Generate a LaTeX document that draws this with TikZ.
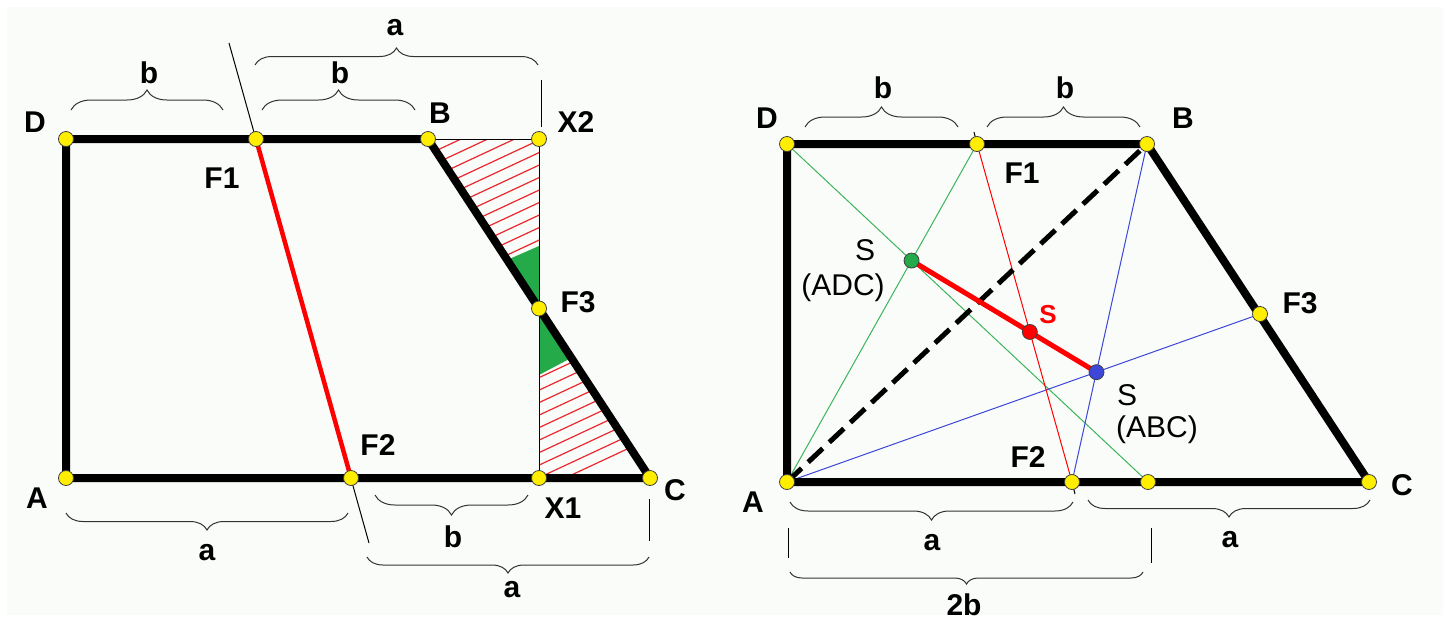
\documentclass[tikz,border=0pt]{standalone}
\usepackage{fontspec}
\setmainfont{Liberation Sans}
\usetikzlibrary{decorations.pathreplacing, positioning}

\definecolor{hatchred}{RGB}{235,40,45}
\definecolor{fillgreen}{RGB}{36,170,72}
\definecolor{linegreen}{RGB}{60,180,90}
\definecolor{lineblue}{RGB}{60,70,215}
\definecolor{dotyellow}{RGB}{255,238,0}
\definecolor{panel}{RGB}{250,252,250}

\tikzset{
  dot/.style={circle, fill=dotyellow, draw=black!75, line width=0.8pt, minimum size=15pt, inner sep=0pt},
  cdot/.style={circle, fill=#1, draw=black!75, line width=0.8pt, minimum size=15pt, inner sep=0pt},
  lbl/.style={font=\fontsize{30}{32}\selectfont\bfseries, inner sep=0pt},
  slbl/.style={font=\fontsize{30}{32}\selectfont, inner sep=0pt},
  thickline/.style={line width=8pt, line join=round},
  thinline/.style={line width=1pt},
  dimbrace/.style={decorate, decoration={brace, amplitude=#1}, line width=1pt, black!80},
}

\begin{document}
\begin{tikzpicture}[x=1pt, y=-1pt]
\useasboundingbox (0,0) rectangle (1451,622);
\fill[panel] (7,7) rectangle (1443,615);

\coordinate (lD) at (66,139);
\coordinate (lF1) at (256,139);
\coordinate (lB) at (428,139);
\coordinate (lX2) at (539,139);
\coordinate (lA) at (66,478);
\coordinate (lF2) at (351,478);
\coordinate (lX1) at (539,478);
\coordinate (lC) at (650,478);
\coordinate (lF3) at (539,308.5);
\coordinate (lG1) at (539,246);
\coordinate (lG2) at (507,260);
\coordinate (lG3) at (539,375);
\coordinate (lG4) at (571,358);
\coordinate (lE1) at (229,43);
\coordinate (lE2) at (369,543);
\coordinate (lT1) at (541,80);
\coordinate (lT2) at (541,127);
\coordinate (lT3) at (649,499);
\coordinate (lT4) at (649,541);

\begin{scope}
\clip (lB) -- (lX2) -- (lG1) -- (lG2) -- cycle;
\foreach \k in {0,...,34}
  \draw[hatchred, line width=1.2pt] (400,{130+12.5*\k}) -- ++(300,-140);
\end{scope}
\begin{scope}
\clip (lG4) -- (lG3) -- (lX1) -- (lC) -- cycle;
\foreach \k in {0,...,34}
  \draw[hatchred, line width=1.2pt] (400,{130+12.5*\k}) -- ++(300,-140);
\end{scope}
\fill[fillgreen] (lF3) -- (lG1) -- (lG2) -- cycle;
\fill[fillgreen] (lF3) -- (lG3) -- (lG4) -- cycle;

\draw[thinline] (lB) -- (lX2) -- (lX1);
\draw[thinline] (lE1) -- (lE2);
\draw[thinline] (lT1) -- (lT2);
\draw[thinline] (lT3) -- (lT4);
\draw[thickline] (lA) -- (lD) -- (lB) -- (lC) -- cycle;
\draw[red, line width=4.5pt] (lF1) -- (lF2);

\foreach \p in {lD,lF1,lB,lX2,lA,lF2,lX1,lC,lF3}
  \node (d\p) at (\p) [dot] {};

\draw[dimbrace=20pt] (71,110) -- (223,110);
\draw[dimbrace=20pt] (262,110) -- (415,110);
\draw[dimbrace=17pt] (255,65) -- (538,65);
\draw[dimbrace=17pt] (348,513) -- (66,513);
\draw[dimbrace=20pt] (528,495) -- (375,495);
\draw[dimbrace=16pt] (649,557) -- (367,557);

\node (lblD) at (35,122) [lbl] {D};
\node (lblF1) at (222,178) [lbl] {F1};
\node (lblB) at (440,113) [lbl] {B};
\node (lblX2) at (576,122) [lbl] {X2};
\node (lblF3) at (578,302) [lbl] {F3};
\node (lblF2) at (378,445) [lbl] {F2};
\node (lblA) at (37,498) [lbl] {A};
\node (lblX1) at (563,508) [lbl] {X1};
\node (lblC) at (675,490) [lbl] {C};
\node (lblb1) at (149,73) [lbl] {b};
\node (lblb2) at (340,73) [lbl] {b};
\node (lbla1) at (395,28) [lbl] {a};
\node (lbla2) at (207,553) [lbl] {a};
\node (lblb3) at (453,537) [lbl] {b};
\node (lbla3) at (512,590) [lbl] {a};

\coordinate (rD) at (787,144);
\coordinate (rF1) at (977,144);
\coordinate (rB) at (1147,144);
\coordinate (rA) at (787,482);
\coordinate (rF2) at (1072,482);
\coordinate (rG) at (1148,482);
\coordinate (rC) at (1369,482);
\coordinate (rF3) at (1260,314);
\coordinate (rE1) at (974,132);
\coordinate (rE2) at (1075,494);
\coordinate (rT1) at (788,528);
\coordinate (rT2) at (788,558);
\coordinate (rT3) at (1151,528);
\coordinate (rT4) at (1151,563);
\coordinate (rSg) at (intersection of rA--rF1 and rD--rG);
\coordinate (rSb) at (intersection of rA--rF3 and rB--rF2);
\coordinate (rS) at (intersection of rF1--rF2 and rSg--rSb);

\draw[thinline] (rE1) -- (rF1);
\draw[thinline] (rF2) -- (rE2);
\draw[thinline] (rT1) -- (rT2);
\draw[thinline] (rT3) -- (rT4);
\draw[linegreen, thinline] (rA) -- (rF1);
\draw[linegreen, thinline] (rD) -- (rG);
\draw[lineblue, thinline] (rA) -- (rF3);
\draw[lineblue, thinline] (rB) -- (rF2);
\draw[red, thinline] (rF1) -- (rF2);
\draw[line width=5pt, dash pattern=on 20pt off 9pt] (rA) -- (rB);
\draw[thickline] (rA) -- (rD) -- (rB) -- (rC) -- cycle;
\draw[red, line width=5pt] (rSg) -- (rSb);

\foreach \p in {rD,rF1,rB,rA,rF2,rG,rC,rF3}
  \node (d\p) at (\p) [dot] {};
\node (drSg) at (rSg) [cdot=fillgreen] {};
\node (drSb) at (rSb) [cdot=lineblue] {};
\node (drS) at (rS) [cdot=red] {};

\draw[dimbrace=20pt] (805,127) -- (958,127);
\draw[dimbrace=20pt] (987,127) -- (1140,127);
\draw[dimbrace=18pt] (1073,502) -- (790,502);
\draw[dimbrace=17pt] (1370,500) -- (1088,500);
\draw[dimbrace=12pt] (1143,572) -- (790,572);

\node (lblrD) at (767,118) [lbl] {D};
\node (lblrF1) at (1022,173) [lbl] {F1};
\node (lblrB) at (1183,118) [lbl] {B};
\node (lblrSg) at (865,250) [slbl] {S};
\node (lblrADC) at (843,288) [slbl] {(ADC)};
\node (lblrS) at (1048,315) [lbl, red, font=\fontsize{26}{28}\selectfont\bfseries] {S};
\node (lblrF3) at (1300,303) [lbl] {F3};
\node (lblrSb) at (1127,395) [slbl] {S};
\node (lblrABC) at (1157,430) [slbl] {(ABC)};
\node (lblrF2) at (1028,457) [lbl] {F2};
\node (lblrA) at (753,502) [lbl] {A};
\node (lblrC) at (1402,485) [lbl] {C};
\node (lblrb1) at (883,88) [lbl] {b};
\node (lblrb2) at (1065,88) [lbl] {b};
\node (lblra1) at (932,543) [lbl] {a};
\node (lblra2) at (1230,540) [lbl] {a};
\node (lblr2b) at (964,605) [lbl] {2b};
\end{tikzpicture}
\end{document}
